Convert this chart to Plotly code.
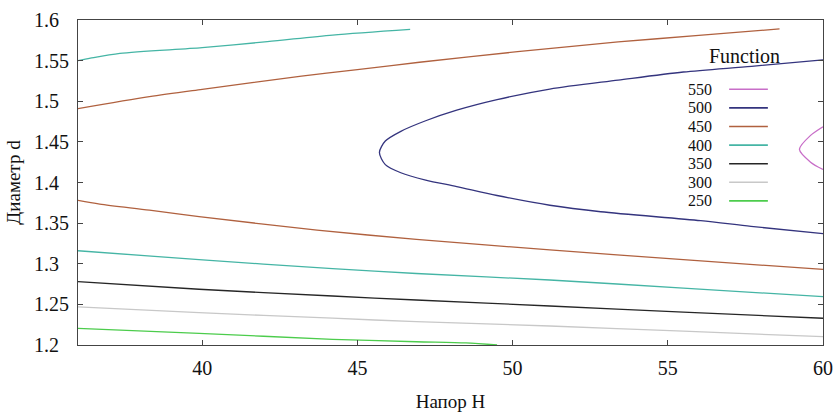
import plotly.graph_objects as go

# Contour levels of the objective function, traced in (H, d) coordinates
levels = [550, 500, 450, 400, 350, 300, 250]
level_colors = ["#c86ec8", "#34347e", "#b0613f", "#45b5a5", "#262626", "#c8c8c8", "#4ccc4c"]

# level 550 (small arc at the right edge)
h_550 = [60.0, 59.6, 59.24, 59.6, 60.0]
d_550 = [1.4687, 1.458, 1.4408, 1.425, 1.416]

# level 500 (closed towards the right)
h_500 = [60.0, 57.7, 55.5, 53.4, 51.2, 49.5, 48.2, 47.2, 46.4, 45.9, 45.71,
         45.9, 46.4, 47.2, 48.2, 49.5, 51.2, 52.84, 56.06, 57.68, 60.0]
d_500 = [1.551, 1.543, 1.536, 1.526, 1.515, 1.502, 1.489, 1.476, 1.463, 1.451, 1.437,
         1.422, 1.412, 1.403, 1.395, 1.384, 1.372, 1.364, 1.353, 1.346, 1.337]

# level 450, upper and lower branches
h_450a = [36.0, 38.3, 40.0, 43.2, 45.0, 47.0, 50.16, 53.4, 56.0, 58.6]
d_450a = [1.491, 1.5056, 1.5147, 1.531, 1.539, 1.548, 1.561, 1.573, 1.581, 1.589]
h_450b = [36.0, 36.7, 38.3, 39.9, 43.7, 46.9, 51.2, 55.5, 60.0]
d_450b = [1.378, 1.3735, 1.366, 1.358, 1.3415, 1.330, 1.317, 1.305, 1.293]

# level 400, upper and lower branches
h_400a = [36.0, 36.4, 37.35, 40.0, 42.1, 44.2, 46.7]
d_400a = [1.550, 1.553, 1.559, 1.566, 1.5733, 1.5815, 1.5885]
h_400b = [36.0, 39.9, 44.2, 46.9, 51.2, 55.5, 60.0]
d_400b = [1.316, 1.305, 1.294, 1.288, 1.280, 1.270, 1.2595]

# levels 350, 300, 250
h_350 = [36.0, 39.9, 44.2, 46.9, 51.2, 55.5, 60.0]
d_350 = [1.278, 1.2686, 1.2603, 1.2554, 1.248, 1.2405, 1.2329]
h_300 = [36.0, 39.9, 44.2, 46.9, 51.2, 55.5, 60.0]
d_300 = [1.247, 1.2398, 1.233, 1.2287, 1.2234, 1.217, 1.2102]
h_250 = [36.0, 39.9, 44.2, 46.9, 48.5, 49.5]
d_250 = [1.2205, 1.2144, 1.207, 1.204, 1.2025, 1.200]

x_ticks = [40, 45, 50, 55, 60]
y_ticks = [1.2, 1.25, 1.3, 1.35, 1.4, 1.45, 1.5, 1.55, 1.6]
# figure spaces pad the short labels so they line up on the left
y_tick_text = ["1.2\u2007", "1.25", "1.3\u2007", "1.35", "1.4\u2007", "1.45", "1.5\u2007", "1.55", "1.6\u2007"]

FONT = "Liberation Serif, Times New Roman, DejaVu Serif, serif"
INK = "#111"

curves = [
    (550, h_550, d_550),
    (500, h_500, d_500),
    (450, h_450a, d_450a),
    (450, h_450b, d_450b),
    (400, h_400a, d_400a),
    (400, h_400b, d_400b),
    (350, h_350, d_350),
    (300, h_300, d_300),
    (250, h_250, d_250),
]
color_of = dict(zip(levels, level_colors))

fig = go.Figure()
for lvl, hs, ds in curves:
    fig.add_trace(go.Scatter(
        x=hs, y=ds, mode="lines", name=str(lvl), showlegend=False,
        line=dict(color=color_of[lvl], width=1.3, shape="spline", smoothing=0.8),
    ))

# gnuplot-style key: label on the left, sample line on the right
fig.add_annotation(text="Function", xref="paper", yref="paper", x=0.895, y=0.889,
                   showarrow=False, xanchor="center", yanchor="middle",
                   font=dict(family=FONT, size=20, color=INK))
row0 = (345 - 89.3) / 325
step = 18.6 / 325
for i, lvl in enumerate(levels):
    yy = row0 - i * step
    fig.add_annotation(text=str(lvl), xref="paper", yref="paper", x=0.852, y=yy,
                       showarrow=False, xanchor="right", yanchor="middle", borderpad=0,
                       font=dict(family=FONT, size=16, color=INK))
    fig.add_shape(type="line", xref="paper", yref="paper", x0=0.874, x1=0.926, y0=yy, y1=yy,
                  line=dict(color=color_of[lvl], width=1.6))

axis_common = dict(
    showgrid=False, zeroline=False, showline=True, mirror="ticks", automargin=False,
    linecolor="#444", linewidth=1, ticks="inside", ticklen=5, tickcolor="#444",
    tickfont=dict(family=FONT, size=20, color=INK),
)
fig.update_xaxes(range=[36, 60], tickvals=x_ticks, ticklabelstandoff=5, **axis_common,
                 title=dict(text="Напор H", font=dict(family=FONT, size=19, color=INK), standoff=19))
fig.update_yaxes(range=[1.2, 1.6], tickvals=y_ticks, ticktext=y_tick_text, ticklabelstandoff=4,
                 **axis_common,
                 title=dict(text="Диаметр d", font=dict(family=FONT, size=19, color=INK), standoff=8))

fig.update_layout(
    width=837, height=412,
    margin=dict(l=78, r=14, t=20, b=67),
    paper_bgcolor="white", plot_bgcolor="white",
)

fig.write_html("out.html")
